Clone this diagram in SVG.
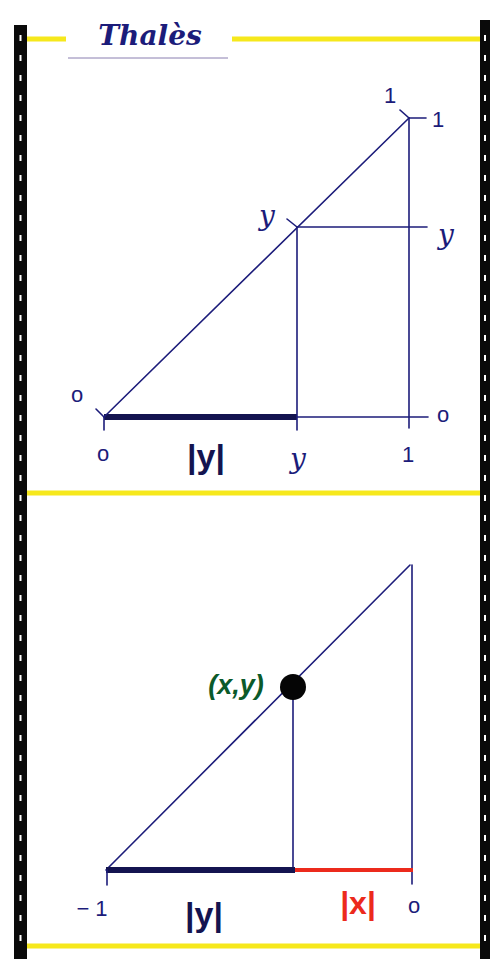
<svg xmlns="http://www.w3.org/2000/svg" width="490" height="959" viewBox="0 0 490 959">
<style>
.ln{stroke:#1c1c7a;stroke-width:1.6;fill:none;stroke-linecap:round}
.thick{stroke:#141450;stroke-width:6;fill:none}
.yel{stroke:#f6e81c;stroke-width:5;fill:none}
.lbl{font-family:"Liberation Sans",Arial,sans-serif;font-size:22px;fill:#1c1c7a;text-anchor:middle}
.yy{font-family:"DejaVu Serif",serif;font-style:italic;font-size:28px;fill:#1c1c7a;text-anchor:middle}
.big{font-family:"Liberation Sans",Arial,sans-serif;font-size:34px;font-weight:bold;fill:#141450;text-anchor:middle}
.film{fill:#0a0a0a}
.hole{stroke:#ffffff;stroke-width:2;stroke-dasharray:6 14}
</style>
<rect width="490" height="959" fill="#ffffff"/>
<g id="frame">
<rect class="film" x="14" y="25" width="13" height="934"/>
<line class="hole" x1="20.5" y1="35" x2="20.5" y2="955"/>
<rect class="film" x="480" y="20" width="10" height="939"/>
<line class="hole" x1="485" y1="35" x2="485" y2="955"/>
<line class="yel" x1="27" y1="39" x2="66" y2="39"/>
<line class="yel" x1="232" y1="39" x2="480" y2="39"/>
<line class="yel" x1="27" y1="493" x2="480" y2="493"/>
<line class="yel" x1="27" y1="946" x2="480" y2="946"/>
<line x1="68" y1="58" x2="228" y2="58" stroke="#8a7fb0" stroke-width="1"/>
<text x="150" y="45" font-family="'DejaVu Serif',serif" font-style="italic" font-weight="bold" font-size="28" fill="#1c1c7a" text-anchor="middle">Thalès</text>
</g>
<g id="connectors">
<line class="thick" x1="104" y1="417" x2="297" y2="417"/>
<line class="ln" x1="297" y1="417" x2="428" y2="417"/>
<line class="ln" x1="104" y1="417" x2="409" y2="118"/>
<line class="ln" x1="409" y1="118" x2="409" y2="428"/>
<line class="ln" x1="409" y1="118" x2="426" y2="118"/>
<line class="ln" x1="400" y1="110" x2="409" y2="118"/>
<line class="ln" x1="297" y1="227" x2="427" y2="227"/>
<line class="ln" x1="287" y1="219" x2="297" y2="227"/>
<line class="ln" x1="297" y1="227" x2="297" y2="430"/>
<line class="ln" x1="104" y1="417" x2="104" y2="430"/>
<line class="ln" x1="96" y1="409" x2="104" y2="417"/>
<line class="ln" x1="293" y1="686" x2="293" y2="870"/>
<line class="ln" x1="106" y1="870" x2="410" y2="565"/>
<line class="ln" x1="412" y1="565" x2="412" y2="884"/>
<line class="thick" x1="106" y1="870" x2="295" y2="870"/>
<line x1="295" y1="870" x2="413" y2="870" stroke="#ec2a1c" stroke-width="4"/>
<line class="ln" x1="107" y1="870" x2="107" y2="885"/>
</g>
<g id="top-labels">
<text class="lbl" x="77" y="402">o</text>
<text class="lbl" x="103" y="461">o</text>
<text class="big" x="206" y="468">|y|</text>
<text class="yy" x="298" y="468">y</text>
<text class="lbl" x="408" y="462">1</text>
<text class="lbl" x="443" y="422">o</text>
<text class="yy" x="446" y="244">y</text>
<text class="yy" x="267" y="225">y</text>
<text class="lbl" x="390" y="103">1</text>
<text class="lbl" x="438" y="127">1</text>
</g>
<g id="point-xy">
<circle cx="293" cy="687" r="13" fill="#050505"/>
<text x="236" y="694" font-family="'Liberation Sans',Arial,sans-serif" font-size="27" font-weight="bold" font-style="italic" fill="#0b5a2a" text-anchor="middle">(x,y)</text>
</g>
<g id="bottom-labels">
<text class="lbl" x="92" y="916">− 1</text>
<text class="big" x="204" y="926">|y|</text>
<text x="358" y="914" font-family="'Liberation Sans',Arial,sans-serif" font-size="32" font-weight="bold" fill="#ec2a1c" text-anchor="middle">|x|</text>
<text class="lbl" x="414" y="913">o</text>
</g>
</svg>
